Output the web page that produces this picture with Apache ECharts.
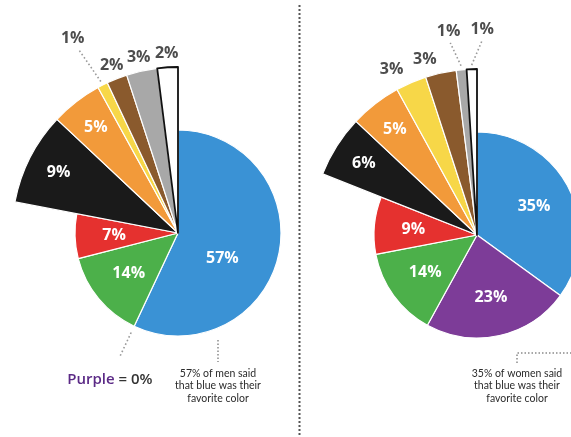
<!DOCTYPE html>
<html><head><meta charset="utf-8">
<script src="https://cdn.jsdelivr.net/npm/echarts@6/dist/echarts.min.js"></script>
<style>html,body{margin:0;padding:0;background:#fff}#c{width:571px;height:437px}</style>
</head><body><div id="c"></div>
<script>
// ---- data ----
var colorNames = ['Blue', 'Purple', 'Green', 'Red', 'Black', 'Orange', 'Yellow', 'Brown', 'Gray', 'White'];
var menValues = [57, 0, 14, 7, 9, 5, 1, 2, 3, 2];
var womenValues = [35, 23, 14, 9, 6, 5, 3, 3, 1, 1];
var groupNames = ['men', 'women'];

// ---- styles ----
var sliceColors = {Blue:'#3a92d5', Purple:'#7d3c98', Green:'#4cb04a', Red:'#e5312f', Black:'#1a1a1a',
  Orange:'#f29a3a', Yellow:'#f7d748', Brown:'#8a5a2d', Gray:'#a8a8a8', White:'#ffffff'};
var shortSlices = {Blue:true, Purple:true, Green:true, Red:true};
var R_SHORT = 103, R_LONG = 166;
var charts = [
  {values: menValues, who: groupNames[0], center: [178, 233], outR: 180, leadR: 221,
   nudge: {Blue: [4.7, -13], Yellow: [-0.4, 0]}, noteX: 218},
  {values: womenValues, who: groupNames[1], center: [477, 235], outR: 180, leadR: 206,
   nudge: {Yellow: [-1.1, 6], Brown: [-1.1, 3], Gray: [-0.7, 0], White: [0.9, 0]}, noteX: 517}
];
var FONT = '"Open Sans", "DejaVu Sans", sans-serif';

function pieData(values, shortGroup) {
  var out = [];
  values.forEach(function (v, i) {
    var name = colorNames[i];
    if (v <= 0) return;
    var mine = !!shortSlices[name] === shortGroup;
    out.push({
      name: name, value: v,
      itemStyle: mine ? {
        color: sliceColors[name],
        borderColor: name === 'White' ? '#111' : '#fff',
        borderWidth: name === 'White' ? 1.8 : 1.2
      } : {color: 'rgba(0,0,0,0)', borderWidth: 0}
    });
  });
  return out;
}

function labelItems(c) {
  var cum = 0, items = [];
  c.values.forEach(function (v, i) {
    var name = colorNames[i];
    var mid = cum + v / 2; cum += v;
    var nd = c.nudge[name] || [0, 0];
    var it = {name: name, text: v + '%', mid: mid, angle: mid + nd[0]};
    if (v === 0) {
      it.kind = 'zero'; it.r = 160; it.line = [110, 137];
    } else if (v >= 5) {
      it.kind = 'in'; it.r = (shortSlices[name] ? 64 : 134);
    } else if (v <= 1) {
      it.kind = 'lead'; it.r = c.leadR; it.line = [170, c.leadR - 12];
    } else {
      it.kind = 'out'; it.r = c.outR;
    }
    it.r += nd[1];
    items.push(it);
  });
  return items;
}

var series = [], polar = [], angleAxis = [], radiusAxis = [];
charts.forEach(function (c, ci) {
  series.push({type: 'pie', center: c.center, radius: R_SHORT, startAngle: 90, clockwise: true, z: 1,
    silent: true, animation: false, label: {show: false}, labelLine: {show: false},
    data: pieData(c.values, true)});
  series.push({type: 'pie', center: c.center, radius: R_LONG, startAngle: 90, clockwise: true, z: 1,
    silent: true, animation: false, label: {show: false}, labelLine: {show: false},
    data: pieData(c.values, false)});
  polar.push({center: c.center, radius: R_LONG});
  angleAxis.push({polarIndex: ci, type: 'value', min: 0, max: 100, startAngle: 90, clockwise: true, show: false});
  radiusAxis.push({polarIndex: ci, type: 'value', min: 0, max: R_LONG, show: false});
  var items = labelItems(c);
  series.push({
    type: 'custom', coordinateSystem: 'polar', polarIndex: ci, silent: true, animation: false, z: 10, clip: false,
    data: items.map(function (it) { return [it.r, it.angle]; }),
    renderItem: function (params, api) {
      var it = items[params.dataIndex];
      var p = api.coord([it.r, it.angle]);
      var children = [];
      if (it.line) {
        var a0 = api.coord([it.line[0], it.mid]);
        var a1 = api.coord([it.line[1], it.angle]);
        children.push({type: 'line', shape: {x1: a0[0], y1: a0[1], x2: a1[0], y2: a1[1]},
          style: {stroke: '#9a9a9a', lineWidth: 1.6, lineDash: [1.6, 2.4]}});
      }
      var st;
      if (it.kind === 'in') {
        st = {text: it.text, fill: '#fff', font: 'bold 16px ' + FONT, align: 'center', verticalAlign: 'middle',
          shadowColor: 'rgba(0,0,0,0.55)', shadowBlur: 2, shadowOffsetX: 1, shadowOffsetY: 1};
      } else if (it.kind === 'zero') {
        st = {text: '{p|' + it.name + '} = ' + it.text, fill: '#333', font: '600 15px ' + FONT,
          align: 'center', verticalAlign: 'middle',
          rich: {p: {fill: '#5b2a86', font: '600 15px ' + FONT}}};
      } else {
        st = {text: it.text, fill: '#4d4d4d', font: 'bold 16px ' + FONT, align: 'center', verticalAlign: 'middle'};
      }
      children.push({type: 'text', x: p[0], y: p[1] + (it.kind === 'zero' ? 2 : 0), z2: 100, style: st});
      return {type: 'group', children: children};
    }
  });
});

var noteStyle = {fill: '#2b2b2b', font: '10.5px Lato, "Open Sans", sans-serif', align: 'center', verticalAlign: 'top', lineHeight: 12.5};
function noteText(c) {
  return c.values[0] + '% of ' + c.who + ' said\nthat blue was their\nfavorite color';
}
var dotted = {stroke: '#8a8a8a', lineWidth: 1.5, lineDash: [1.5, 2]};
var graphic = [
  {type: 'line', shape: {x1: 299.5, y1: 5, x2: 299.5, y2: 437}, style: {stroke: '#555', lineWidth: 2, lineDash: [2, 2]}, silent: true},
  {type: 'line', shape: {x1: charts[0].noteX, y1: 340, x2: charts[0].noteX, y2: 362}, style: dotted, silent: true},
  {type: 'text', x: charts[0].noteX, y: 367, style: Object.assign({text: noteText(charts[0])}, noteStyle), silent: true},
  {type: 'polyline', shape: {points: [[charts[1].noteX, 363], [charts[1].noteX, 353], [571, 353]]}, style: Object.assign({fill: null}, dotted), silent: true},
  {type: 'text', x: charts[1].noteX, y: 367, style: Object.assign({text: noteText(charts[1])}, noteStyle), silent: true}
];

var chart = echarts.init(document.getElementById('c'), null, {renderer: 'canvas'});
chart.setOption({
  backgroundColor: '#fff',
  animation: false,
  polar: polar, angleAxis: angleAxis, radiusAxis: radiusAxis,
  series: series,
  graphic: graphic
});
</script>
</body></html>
